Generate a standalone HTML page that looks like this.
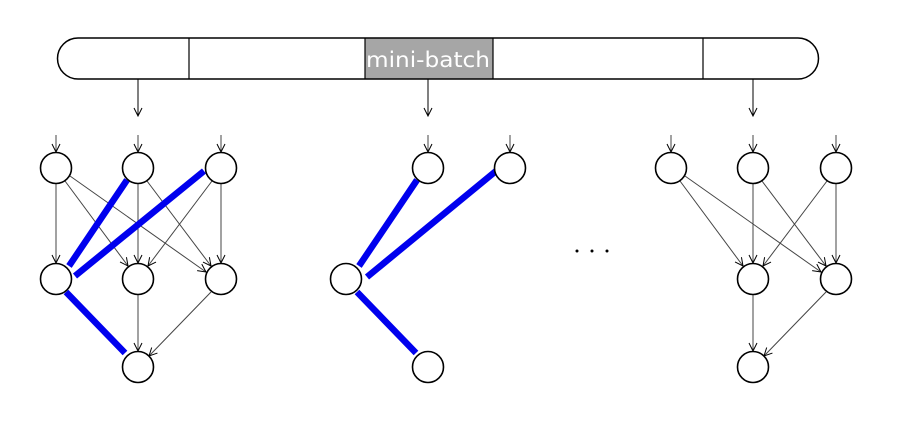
<!DOCTYPE html>
<html><head><style>html,body{margin:0;padding:0;background:#fff;}svg{display:block}</style></head>
<body>
<svg width="905" height="433" viewBox="0 0 905 433" xmlns="http://www.w3.org/2000/svg">
<defs>
<marker id="a" markerWidth="10" markerHeight="10" refX="9" refY="5" orient="auto" markerUnits="userSpaceOnUse">
<path d="M1,1 L9,5 L1,9" fill="none" stroke="#000" stroke-width="1"/>
</marker>
</defs>
<rect x="365" y="38" width="128" height="41" fill="#a6a6a6"/>
<path d="M78,38 H798 A20.5,20.5 0 0 1 798,79 H78 A20.5,20.5 0 0 1 78,38 Z" fill="none" stroke="#000" stroke-width="1.5"/>
<line x1="189" y1="38" x2="189" y2="79" stroke="#000" stroke-width="1.2"/>
<line x1="365" y1="38" x2="365" y2="79" stroke="#000" stroke-width="1.2"/>
<line x1="493" y1="38" x2="493" y2="79" stroke="#000" stroke-width="1.2"/>
<line x1="703" y1="38" x2="703" y2="79" stroke="#000" stroke-width="1.2"/>
<text x="428" y="67" text-anchor="middle" font-family="'DejaVu Sans', 'Liberation Sans', sans-serif" font-size="21" textLength="124" lengthAdjust="spacingAndGlyphs" fill="#fff">mini-batch</text>
<g stroke="#000" stroke-width="1" marker-end="url(#a)">
<line x1="138" y1="79" x2="138" y2="116"/>
<line x1="428" y1="79" x2="428" y2="116"/>
<line x1="753" y1="79" x2="753" y2="116"/>
</g>
<g stroke="#444" stroke-width="1" marker-end="url(#a)">
<line x1="56" y1="135" x2="56" y2="152"/>
<line x1="138" y1="135" x2="138" y2="152"/>
<line x1="221" y1="135" x2="221" y2="152"/>
<line x1="428" y1="135" x2="428" y2="152"/>
<line x1="510" y1="135" x2="510" y2="152"/>
<line x1="671" y1="135" x2="671" y2="152"/>
<line x1="753" y1="135" x2="753" y2="152"/>
<line x1="836" y1="135" x2="836" y2="152"/>
<line x1="56" y1="184" x2="56" y2="263"/>
<line x1="65" y1="181" x2="128" y2="266"/>
<line x1="70" y1="176" x2="206" y2="272"/>
<line x1="138" y1="184" x2="138" y2="263"/>
<line x1="147" y1="181" x2="211" y2="266"/>
<line x1="212" y1="181" x2="148" y2="266"/>
<line x1="221" y1="184" x2="221" y2="263"/>
<line x1="138" y1="295" x2="138" y2="351"/>
<line x1="211" y1="292" x2="149" y2="356"/>
<line x1="680" y1="181" x2="743" y2="266"/>
<line x1="685" y1="176" x2="821" y2="272"/>
<line x1="753" y1="184" x2="753" y2="263"/>
<line x1="762" y1="181" x2="826" y2="266"/>
<line x1="827" y1="181" x2="763" y2="266"/>
<line x1="836" y1="184" x2="836" y2="263"/>
<line x1="753" y1="295" x2="753" y2="351"/>
<line x1="826" y1="292" x2="764" y2="356"/>
</g>
<g stroke="#0000ee" stroke-width="6.5" stroke-linecap="butt">
<line x1="127" y1="180" x2="69" y2="266"/>
<line x1="204" y1="171" x2="75" y2="276"/>
<line x1="66" y1="292" x2="125" y2="353"/>
<line x1="417" y1="180" x2="359" y2="266"/>
<line x1="496" y1="171" x2="367" y2="277"/>
<line x1="357" y1="292" x2="416" y2="353"/>
</g>
<g fill="#fff" stroke="#000" stroke-width="1.6">
<circle cx="56" cy="168" r="15.5"/><circle cx="138" cy="168" r="15.5"/><circle cx="221" cy="168" r="15.5"/>
<circle cx="56" cy="279" r="15.5"/><circle cx="138" cy="279" r="15.5"/><circle cx="221" cy="279" r="15.5"/>
<circle cx="138" cy="367" r="15.5"/>
<circle cx="428" cy="168" r="15.5"/><circle cx="510" cy="168" r="15.5"/>
<circle cx="346" cy="279" r="15.5"/><circle cx="428" cy="367" r="15.5"/>
<circle cx="671" cy="168" r="15.5"/><circle cx="753" cy="168" r="15.5"/><circle cx="836" cy="168" r="15.5"/>
<circle cx="753" cy="279" r="15.5"/><circle cx="836" cy="279" r="15.5"/>
<circle cx="753" cy="367" r="15.5"/>
</g>
<g fill="#000"><circle cx="577" cy="251" r="1.5"/><circle cx="592" cy="251" r="1.5"/><circle cx="607" cy="251" r="1.5"/></g>
</svg>
</body></html>
